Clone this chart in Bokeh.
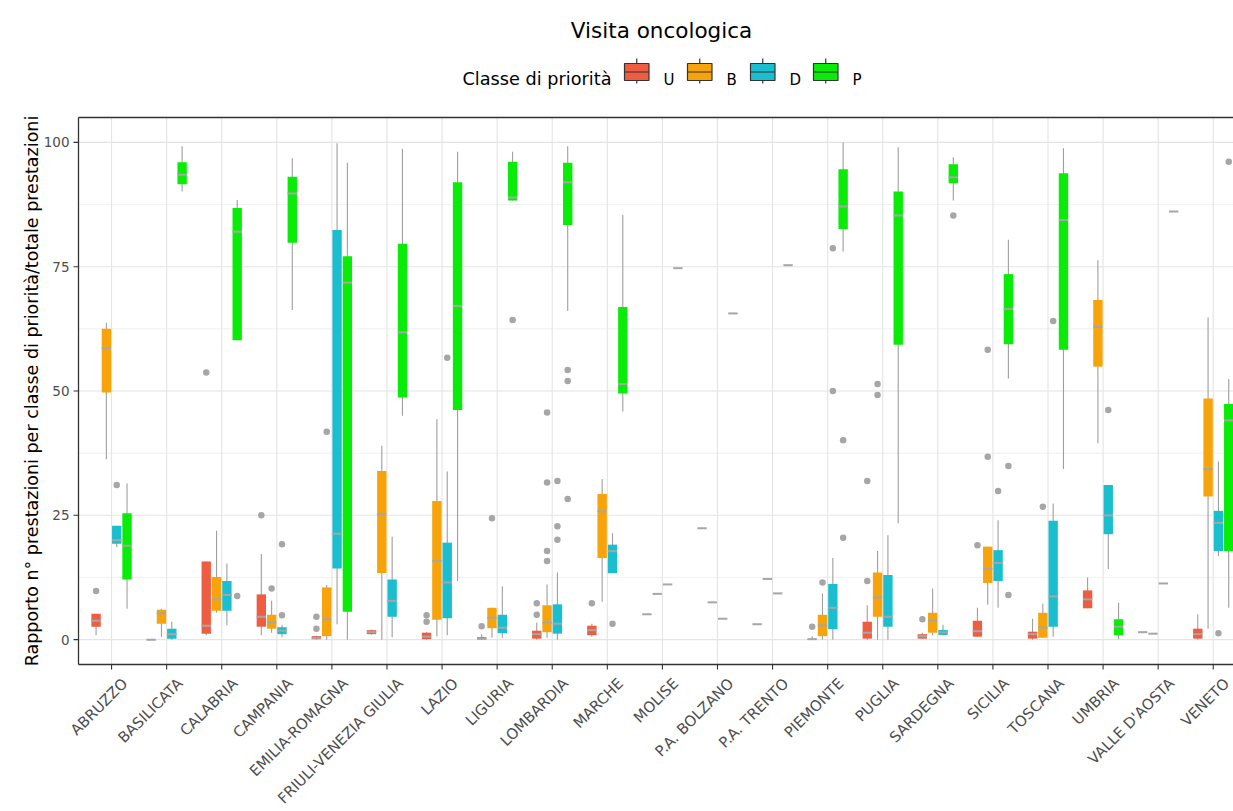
import math
from bokeh.plotting import figure
from bokeh.models import Range1d, ColumnDataSource
from bokeh.embed import file_html
from bokeh.resources import INLINE
from bokeh.core.properties import value

# ---------------- data ----------------
regions = ["ABRUZZO", "BASILICATA", "CALABRIA", "CAMPANIA", "EMILIA-ROMAGNA",
           "FRIULI-VENEZIA GIULIA", "LAZIO", "LIGURIA", "LOMBARDIA", "MARCHE",
           "MOLISE", "P.A. BOLZANO", "P.A. TRENTO", "PIEMONTE", "PUGLIA",
           "SARDEGNA", "SICILIA", "TOSCANA", "UMBRIA", "VALLE D'AOSTA", "VENETO"]
classes = ["U", "B", "D", "P"]
class_colors = ["#EE5C42", "#F7A30A", "#1BBECE", "#08EC08"]

U_low = [0.9, 0.0, 0.9, 0.9, 0.0, 1.0, 0.0, 0.0, 0.0, 0.6, 5.1, 22.4, 3.1, 0.0, 0.0, 0.2, 0.6, 0.0, 6.3, 1.5, 0.0]
U_q1 = [2.6, 0.0, 1.2, 2.6, 0.1, 1.1, 0.1, 0.05, 0.2, 0.9, 5.1, 22.4, 3.1, 0.05, 0.2, 0.2, 0.6, 0.2, 6.3, 1.5, 0.2]
U_med = [3.8, 0.0, 2.8, 4.6, 0.3, 1.5, 0.6, 0.2, 1.1, 1.9, 5.1, 22.4, 3.1, 0.1, 1.4, 0.7, 1.7, 1.1, 8.1, 1.5, 1.1]
U_q3 = [5.2, 0.0, 15.7, 9.1, 0.7, 1.9, 1.4, 0.5, 1.8, 2.8, 5.1, 22.4, 3.1, 0.15, 3.6, 1.1, 3.8, 1.6, 9.9, 1.5, 2.2]
U_high = [5.2, 0.0, 15.7, 17.2, 0.8, 2.0, 1.6, 1.1, 3.4, 3.2, 5.1, 22.4, 3.1, 0.7, 6.9, 1.4, 6.4, 4.2, 12.5, 1.5, 5.1]

B_low = [36.3, 0.6, 5.4, 1.4, 0.0, 0.0, 0.7, 0.4, 0.4, 7.6, 9.2, 7.5, 12.2, 0.0, 0.0, 0.9, 7.0, 0.4, 39.5, 1.2, 2.2]
B_q1 = [49.7, 3.2, 5.8, 2.2, 0.7, 13.4, 4.0, 2.3, 1.5, 16.4, 9.2, 7.5, 12.2, 0.7, 4.6, 1.4, 11.4, 0.4, 54.9, 1.2, 28.8]
B_med = [58.6, 5.3, 8.1, 3.4, 4.1, 25.2, 15.8, 4.4, 3.4, 25.8, 9.2, 7.5, 12.2, 2.9, 8.5, 3.8, 14.2, 2.4, 62.9, 1.2, 34.3]
B_q3 = [62.5, 6.0, 12.6, 5.0, 10.5, 33.9, 27.9, 6.4, 6.9, 29.3, 9.2, 7.5, 12.2, 5.0, 13.5, 5.4, 18.7, 5.4, 68.3, 1.2, 48.5]
B_high = [63.7, 6.2, 21.9, 7.8, 11.0, 39.0, 44.3, 6.4, 11.1, 32.3, 9.2, 7.5, 12.2, 9.3, 17.8, 10.3, 18.7, 7.2, 76.3, 1.2, 64.8]

D_low = [18.6, 0.0, 2.9, 0.5, 3.1, 0.5, 0.9, 0.4, 0.0, 13.4, 11.1, 4.2, 9.3, 0.0, 0.0, 0.9, 6.4, 0.6, 14.2, 11.3, 16.8]
D_q1 = [19.3, 0.2, 5.8, 1.1, 14.3, 4.6, 4.3, 1.3, 1.2, 13.4, 11.1, 4.2, 9.3, 2.1, 2.6, 0.95, 11.8, 2.6, 21.2, 11.3, 17.8]
D_med = [20.0, 1.1, 9.0, 1.8, 21.3, 7.8, 11.5, 2.4, 3.2, 17.8, 11.1, 4.2, 9.3, 6.4, 4.6, 1.5, 15.4, 8.7, 25.0, 11.3, 23.5]
D_q3 = [22.9, 2.2, 11.8, 2.5, 82.4, 12.1, 19.5, 5.0, 7.1, 19.1, 11.1, 4.2, 9.3, 11.2, 13.0, 1.95, 18.0, 23.9, 31.1, 11.3, 25.9]
D_high = [22.9, 3.6, 15.3, 3.0, 99.8, 20.7, 33.8, 10.7, 13.5, 21.4, 11.1, 4.2, 9.3, 16.4, 21.0, 3.0, 24.0, 27.4, 31.1, 11.3, 35.8]

P_low = [6.2, 90.1, 60.2, 66.3, 0.0, 45.0, 11.8, 88.3, 66.1, 45.9, 74.7, 65.6, 75.3, 78.0, 23.4, 88.3, 52.5, 34.3, 0.1, 86.1, 6.4]
P_q1 = [12.1, 91.6, 60.2, 79.8, 5.6, 48.7, 46.2, 88.3, 83.4, 49.5, 74.7, 65.6, 75.3, 82.6, 59.3, 91.8, 59.4, 58.3, 0.9, 86.1, 17.8]
P_med = [18.9, 93.5, 82.0, 89.7, 71.8, 61.8, 67.1, 88.9, 92.0, 51.4, 74.7, 65.6, 75.3, 87.1, 85.3, 93.0, 66.5, 84.4, 2.6, 86.1, 44.1]
P_q3 = [25.4, 96.0, 86.8, 93.1, 77.1, 79.6, 92.0, 96.1, 95.9, 66.9, 74.7, 65.6, 75.3, 94.6, 90.1, 95.6, 73.5, 93.8, 4.1, 86.1, 47.4]
P_high = [31.4, 99.2, 88.4, 96.8, 95.9, 98.7, 98.1, 98.1, 99.2, 85.4, 74.7, 65.6, 75.3, 100.0, 99.0, 97.0, 80.4, 98.8, 7.4, 86.1, 52.4]

# outliers: region index, class, value
outlier_region = [0, 2, 3, 4, 4, 6, 6, 7, 8, 8, 9, 13, 14, 14, 15, 16,
                  3, 4, 7, 8, 8, 8, 8, 13, 14, 14, 16, 16, 17,
                  0, 3, 3, 6, 8, 8, 8, 9, 13, 13, 16, 17, 18, 20,
                  2, 7, 8, 8, 8, 13, 13, 15, 16, 16, 20]
outlier_class = ["U"] * 16 + ["B"] * 13 + ["D"] * 14 + ["P"] * 11
outlier_value = [9.8, 53.7, 25.0, 4.6, 2.2, 4.9, 3.6, 2.7, 7.3, 5.0, 7.3, 2.6, 31.9, 11.8, 4.1, 19.0,
                 10.3, 41.8, 24.4, 45.7, 31.6, 17.8, 15.8, 11.5, 51.4, 49.2, 58.3, 36.8, 26.7,
                 31.1, 19.2, 4.9, 56.7, 31.9, 22.8, 20.1, 3.2, 78.7, 50.0, 29.9, 64.1, 46.2, 1.3,
                 8.8, 64.3, 54.2, 52.0, 28.3, 40.1, 20.5, 85.3, 34.9, 9.0, 96.1]

title_text = "Visita oncologica"
legend_title = "Classe di priorità"
y_label = "Rapporto n° prestazioni per classe di priorità/totale prestazioni"
y_ticks = [0, 25, 50, 75, 100]
y_minor = [12.5, 37.5, 62.5, 87.5]

# ---------------- layout / styling ----------------
FONT = "DejaVu Sans"
W, H = 1233, 811
PANEL_L, PANEL_T, PANEL_B = 78, 117, 664          # panel edges in pixels
X_LO, Y_LO, Y_HI = 0.4, -5.0, 105.0               # data values at panel edges
PX_X = 55.085                                     # pixels per category step
PX_Y = (PANEL_B - PANEL_T) / (Y_HI - Y_LO)        # pixels per y unit
X0 = X_LO - PANEL_L / PX_X
Y0 = Y_HI + PANEL_T / PX_Y


def dx(px):
    return X0 + px / PX_X


def dy(py):
    return Y0 - py / PX_Y


X_RIGHT = dx(W + 20)
DODGE = [-0.281, -0.094, 0.094, 0.281]
BOX_W = 0.17
WHISKER = "#9E9E9E"
MEDIAN = "#A6A6A6"
OUTLIER = "#A6A6A6"
GRID = "#E4E4E4"
GRID_MINOR = "#EDEDED"
DARK = "#333333"
TICK_TXT = "#4D4D4D"

stats = {
    "U": (U_low, U_q1, U_med, U_q3, U_high),
    "B": (B_low, B_q1, B_med, B_q3, B_high),
    "D": (D_low, D_q1, D_med, D_q3, D_high),
    "P": (P_low, P_q1, P_med, P_q3, P_high),
}
n = len(regions)
cats = [i + 1 for i in range(n)]

p = figure(width=W, height=H, x_range=Range1d(dx(0), dx(W)), y_range=Range1d(dy(H), dy(0)),
           output_backend="svg", toolbar_location=None, title=None,
           x_axis_type=None, y_axis_type=None, min_border=0)
p.outline_line_color = None
p.background_fill_color = "white"
p.border_fill_color = "white"

# grid lines
p.segment(x0=[X_LO] * len(y_minor), x1=[X_RIGHT] * len(y_minor), y0=y_minor, y1=y_minor,
          line_color=GRID_MINOR, line_width=0.8)
p.segment(x0=[X_LO] * len(y_ticks), x1=[X_RIGHT] * len(y_ticks), y0=y_ticks, y1=y_ticks,
          line_color=GRID, line_width=1.1)
p.segment(x0=cats, x1=cats, y0=[Y_LO] * n, y1=[Y_HI] * n, line_color=GRID, line_width=1.1)

# boxplots
for ci, cls in enumerate(classes):
    lo, q1, med, q3, hi = stats[cls]
    xs = [c + DODGE[ci] for c in cats]
    src = ColumnDataSource(dict(x=xs, lo=lo, q1=q1, med=med, q3=q3, hi=hi,
                                xl=[x - BOX_W / 2 for x in xs], xr=[x + BOX_W / 2 for x in xs]))
    p.segment(x0="x", y0="lo", x1="x", y1="hi", source=src, line_color=WHISKER, line_width=1.1)
    p.vbar(x="x", width=BOX_W, bottom="q1", top="q3", source=src,
           fill_color=class_colors[ci], line_color=None)
    p.segment(x0="xl", y0="med", x1="xr", y1="med", source=src, line_color=MEDIAN, line_width=2)

ox = [outlier_region[k] + 1 + DODGE[classes.index(outlier_class[k])] for k in range(len(outlier_value))]
p.scatter(x=ox, y=outlier_value, size=6.5, fill_color=OUTLIER, line_color=None)

# panel border (left, top, bottom; right edge lies outside the picture)
p.segment(x0=[X_LO, X_LO, X_LO], x1=[X_LO, X_RIGHT, X_RIGHT], y0=[Y_LO, Y_HI, Y_LO],
          y1=[Y_HI, Y_HI, Y_LO], line_color=DARK, line_width=1.3)

# y axis ticks, labels, title
p.segment(x0=[dx(PANEL_L - 5)] * len(y_ticks), x1=[X_LO] * len(y_ticks), y0=y_ticks, y1=y_ticks,
          line_color=DARK, line_width=1.1)
p.text(x=[dx(PANEL_L - 9)] * len(y_ticks), y=y_ticks, text=[str(v) for v in y_ticks],
       text_font=value(FONT), text_font_size="13.5px", text_color=TICK_TXT,
       text_align="right", text_baseline="middle")
p.text(x=[dx(31)], y=[(Y_LO + Y_HI) / 2], text=[y_label], angle=math.pi / 2,
       text_font=value(FONT), text_font_size="17.5px", text_color="black",
       text_align="center", text_baseline="alphabetic")

# x axis ticks and rotated labels
p.segment(x0=cats, x1=cats, y0=[Y_LO] * n, y1=[dy(PANEL_B + 5)] * n, line_color=DARK, line_width=1.1)
p.text(x=[c + 7 / PX_X for c in cats], y=[dy(674)] * n, text=regions, angle=math.pi / 4,
       text_font=value(FONT), text_font_size="14.8px", text_color=TICK_TXT,
       text_align="right", text_baseline="top")

# title
p.text(x=[dx(661)], y=[dy(30)], text=[title_text], text_font=value(FONT), text_font_size="21.5px",
       text_align="center", text_baseline="alphabetic", text_color="black")

# legend
p.text(x=[dx(462)], y=[dy(78.5)], text=[legend_title], text_font=value(FONT), text_font_size="17.7px",
       text_align="left", text_baseline="alphabetic", text_color="black")
key_left = [dx(624 + 63 * i) for i in range(len(classes))]
key_w = 24.5 / PX_X
key_mid = [k + key_w / 2 for k in key_left]
key_right = [k + key_w for k in key_left]
p.segment(x0=key_mid, y0=[dy(58)] * 4, x1=key_mid, y1=[dy(83)] * 4, line_color=DARK, line_width=1.2)
p.quad(left=key_left, right=key_right, top=[dy(63)] * 4, bottom=[dy(80)] * 4,
       fill_color=class_colors, line_color=DARK, line_width=1.2)
p.segment(x0=key_left, y0=[dy(71.5)] * 4, x1=key_right, y1=[dy(71.5)] * 4, line_color=DARK, line_width=1.2)
p.text(x=[k + 39 / PX_X for k in key_left], y=[dy(79)] * 4, text=classes, text_font=value(FONT),
       text_font_size="15px", text_align="left", text_baseline="alphabetic", text_color="black")

with open("out.html", "w", encoding="utf-8") as f:
    f.write(file_html(p, INLINE))
